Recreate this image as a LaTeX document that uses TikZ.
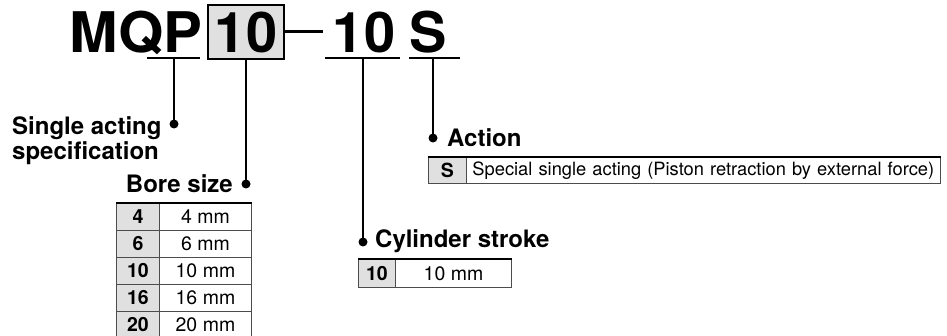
\documentclass[tikz,border=0pt]{standalone}
\usepackage{fontspec}
\setmainfont{TeX Gyre Heros}
\definecolor{cellgray}{gray}{0.88}
\definecolor{cellline}{gray}{0.3}
\begin{document}
\begin{tikzpicture}[x=1pt,y=-1pt,
  conn/.style={line width=2pt},
  uline/.style={line width=2pt},
  dash line/.style={line width=3pt},
  dot/.style={circle,fill=black,inner sep=0pt,minimum size=9pt},
  lbl/.style={font=\fontsize{24}{25}\selectfont\bfseries,inner sep=0pt},
  big/.style={font=\fontsize{56}{60}\selectfont\bfseries,inner sep=0pt},
  keycell/.style={draw=cellline,line width=0.9pt,fill=cellgray,font=\fontsize{19.5}{21}\selectfont\bfseries,inner sep=0pt,anchor=north west},
  valcell/.style={draw=cellline,line width=0.9pt,fill=white,font=\fontsize{19.5}{21}\selectfont,inner sep=0pt,anchor=north west},
  topline/.style={line width=2pt,black}
]
\useasboundingbox (0,0) rectangle (947,336);

% ---- model code ----
\node[big,anchor=base] (mqp) at (136,53) {\scalebox{1.04}[1]{MQP}};
\node[draw=black,line width=2pt,fill=cellgray,minimum width=76pt,minimum height=54pt,inner sep=0pt,font=\fontsize{56}{60}\selectfont\bfseries,text depth=0pt] (bore) at (246,32) {10};
\node[big,anchor=base] (stroke) at (364,53) {10};
\node[big,anchor=base] (act) at (428.5,53) {S};
\coordinate (dashend) at (323,32);
\draw[dash line] (bore.east) -- (dashend);

% underlines
\coordinate (pu1) at (147,58); \coordinate (pu2) at (200,58);
\coordinate (su1) at (325,58); \coordinate (su2) at (400,58);
\coordinate (au1) at (409,58); \coordinate (au2) at (460,58);
\draw[uline] (pu1) -- (pu2);
\draw[uline] (su1) -- (su2);
\draw[uline] (au1) -- (au2);

% connector tops
\coordinate (pv) at (174,58);
\coordinate (sv) at (363,58);
\coordinate (av) at (433,58);

% dots
\node[dot] (pdot) at (174,124) {};
\node[dot] (bdot) at (246,184) {};
\node[dot] (sdot) at (363,242) {};
\node[dot] (adot) at (433,138) {};

\draw[conn] (pv) -- (pdot.center);
\draw[conn] (bore.south) -- (bdot.center);
\draw[conn] (sv) -- (sdot.center);
\draw[conn] (av) -- (adot.center);

% labels
\node[lbl,align=left,anchor=north west] (single) at (12,116) {Single acting\\specification};
\node[lbl,anchor=base east] (borelbl) at (233,193) {Bore size};
\node[lbl,anchor=base west] (actlbl) at (447,147) {Action};
\node[lbl,anchor=base west] (strokelbl) at (375,248) {Cylinder stroke};

% action table
\node[keycell,minimum width=38pt,minimum height=26pt] (ak) at (428,157) {S};
\node[valcell,minimum width=472pt,minimum height=26pt,text width=462pt,inner xsep=6pt,align=left,font=\fontsize{18.3}{20}\selectfont] (av1) at (466,157) {Special single acting (Piston retraction by external force)};
\draw[topline] (ak.north west) -- (av1.north east);

% stroke table
\node[keycell,minimum width=37pt,minimum height=28pt] (sk) at (358,259) {10};
\node[valcell,minimum width=116pt,minimum height=28pt] (sv1) at (395,259) {10 mm};
\draw[topline] (sk.north west) -- (sv1.north east);

% bore table
\foreach \k/\v [count=\i] in {4/4 mm,6/6 mm,10/10 mm,16/16 mm,20/20 mm}{
  \node[keycell,minimum width=43pt,minimum height=27pt] (bk\i) at (116,{203+27*(\i-1)}) {\k};
  \node[valcell,minimum width=92pt,minimum height=27pt] (bv\i) at (159,{203+27*(\i-1)}) {\v};
}
\draw[topline] (bk1.north west) -- (bv1.north east);
\end{tikzpicture}
\end{document}
